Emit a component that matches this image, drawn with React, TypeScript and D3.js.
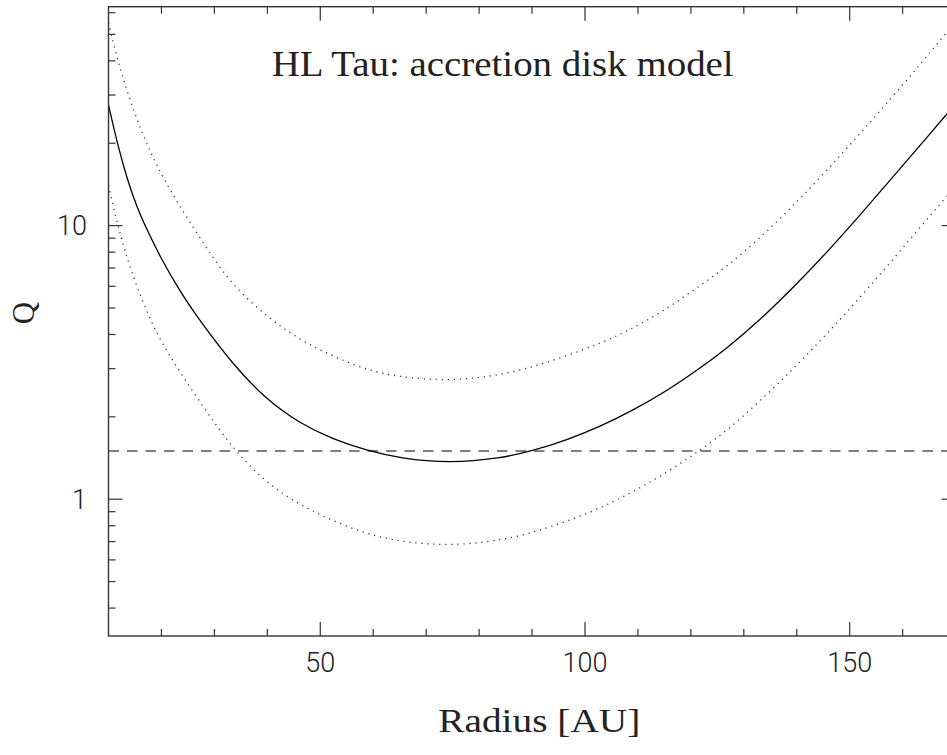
import React from "react";
import * as d3 from "d3";

// Radius [AU] / Toomre Q values
const solidR = [10, 11.66, 13.55, 15.44, 17.33, 19.86, 23.51, 27.28, 33.57, 39.88, 46.17, 52.46, 58.77, 65.06, 74.5, 83.95, 90.24, 96.55, 102.84, 109.14, 115.45, 121.1, 126.78, 133.07, 139.36, 145.67, 151.96, 158.25, 164.56, 168.34, 170];
const solidQ = [27.6, 19.95, 14.71, 11.57, 9.6, 7.61, 5.74, 4.48, 3.094, 2.305, 1.891, 1.653, 1.507, 1.409, 1.353, 1.409, 1.504, 1.646, 1.841, 2.118, 2.486, 2.95, 3.555, 4.519, 5.94, 7.975, 10.93, 15.12, 20.99, 25.58, 27.8];

const upperR = [10, 11.04, 12.3, 13.55, 15.44, 17.33, 19.22, 21.75, 24.89, 29.3, 33.57, 39.88, 46.17, 52.46, 58.77, 65.06, 74.5, 83.95, 90.24, 96.55, 102.84, 107.88, 114.16, 120.5, 126.78, 133.07, 139.36, 145.67, 151.96, 158.25, 164.56, 168.34, 170];
const upperQ = [55.0, 45.4, 36.9, 30.8, 24.2, 19.7, 16.44, 13.35, 10.64, 7.84, 6.01, 4.65, 3.82, 3.32, 2.97, 2.79, 2.7, 2.84, 3.05, 3.34, 3.71, 4.1, 4.78, 5.8, 7.07, 9.01, 11.8, 15.9, 21.7, 29.8, 41.5, 51.0, 55.7];

const lowerR = [10, 11.04, 12.17, 13.25, 14.68, 17.84, 20.99, 27.28, 33.57, 39.88, 46.17, 52.46, 58.77, 65.06, 74.5, 83.95, 90.24, 96.55, 102.84, 109.14, 115.45, 121.75, 127.4, 133.07, 139.36, 145.67, 151.96, 158.25, 164.56, 168.34, 170];
const lowerQ = [14.02, 11.4, 9.37, 7.92, 6.46, 4.52, 3.45, 2.257, 1.519, 1.143, 0.952, 0.832, 0.746, 0.699, 0.674, 0.706, 0.756, 0.829, 0.926, 1.065, 1.252, 1.507, 1.82, 2.286, 2.99, 4.02, 5.46, 7.55, 10.53, 12.78, 13.9];

const thresholdQ = 1.5;

const xMajorTicks = [50, 100, 150];
const xMinorTicks = [20, 30, 40, 60, 70, 80, 90, 110, 120, 130, 140, 160];
const yMajorTicks = [1, 10];
const yMinorTicks = [0.4, 0.5, 0.6, 0.7, 0.8, 0.9, 2, 3, 4, 5, 6, 7, 8, 9, 20, 30, 40, 50, 60];
const xTickLabels = ["50", "100", "150"];
const yTickLabels = ["1", "10"];

const titleText = "HL Tau: accretion disk model";
const xLabel = "Radius [AU]";
const yLabel = "Q";

const W = 947;
const H = 755;
const L = 108.5;
const R = 955.6;
const T = 6.7;
const B = 636;

export default function App() {
  const x = d3.scaleLinear().domain([10, 170]).range([L, R]);
  const y = d3.scaleLog().domain([Math.pow(10, -0.5), Math.pow(10, 1.8)]).range([B, T]);

  const line = d3
    .line<[number, number]>()
    .x((d) => x(d[0]))
    .y((d) => y(d[1]))
    .curve(d3.curveBasis);

  const zip = (a: number[], b: number[]) => a.map((v, i) => [v, b[i]] as [number, number]);

  const axisColor = "#333";
  const sans = "Roboto, 'Liberation Sans', sans-serif";
  const serif = "'Liberation Serif', 'DejaVu Serif', serif";
  const MAJ = 14;
  const MIN = 7;

  return (
    <svg
      width={W}
      height={H}
      style={{ position: "absolute", left: 0, top: 0, background: "#fff", display: "block" }}
    >
      <defs>
        <clipPath id="plot">
          <rect x={L} y={T} width={R - L} height={B - T} />
        </clipPath>
      </defs>
      <rect x={0} y={0} width={W} height={H} fill="#fff" />

      <g clipPath="url(#plot)">
        <line
          x1={L}
          x2={R}
          y1={y(thresholdQ)}
          y2={y(thresholdQ)}
          stroke="#000"
          strokeWidth={1.2}
          strokeDasharray="10.5 8"
        />
        <path d={line(zip(upperR, upperQ)) || ""} fill="none" stroke="#333" strokeWidth={1.3} strokeDasharray="1.2 4.8" />
        <path d={line(zip(lowerR, lowerQ)) || ""} fill="none" stroke="#333" strokeWidth={1.3} strokeDasharray="1.2 4.8" />
        <path d={line(zip(solidR, solidQ)) || ""} fill="none" stroke="#000" strokeWidth={1.3} />
      </g>

      {/* frame */}
      <rect x={L} y={T} width={R - L} height={B - T} fill="none" stroke={axisColor} strokeWidth={1.4} />

      {/* x ticks bottom & top */}
      {xMajorTicks.map((t) => (
        <g key={"xM" + t}>
          <line x1={x(t)} x2={x(t)} y1={B} y2={B - MAJ} stroke={axisColor} strokeWidth={1.2} />
          <line x1={x(t)} x2={x(t)} y1={T} y2={T + MAJ} stroke={axisColor} strokeWidth={1.2} />
        </g>
      ))}
      {xMinorTicks.map((t) => (
        <g key={"xm" + t}>
          <line x1={x(t)} x2={x(t)} y1={B} y2={B - MIN} stroke={axisColor} strokeWidth={1.2} />
          <line x1={x(t)} x2={x(t)} y1={T} y2={T + MIN} stroke={axisColor} strokeWidth={1.2} />
        </g>
      ))}
      {/* y ticks left & right */}
      {yMajorTicks.map((t) => (
        <g key={"yM" + t}>
          <line x1={L} x2={L + MAJ} y1={y(t)} y2={y(t)} stroke={axisColor} strokeWidth={1.2} />
          <line x1={R} x2={R - MAJ} y1={y(t)} y2={y(t)} stroke={axisColor} strokeWidth={1.2} />
        </g>
      ))}
      {yMinorTicks.map((t) => (
        <g key={"ym" + t}>
          <line x1={L} x2={L + MIN} y1={y(t)} y2={y(t)} stroke={axisColor} strokeWidth={1.2} />
          <line x1={R} x2={R - MIN} y1={y(t)} y2={y(t)} stroke={axisColor} strokeWidth={1.2} />
        </g>
      ))}

      {/* tick labels */}
      {xMajorTicks.map((t, i) => (
        <text
          key={"xl" + t}
          x={x(t)}
          y={672}
          textAnchor="middle"
          fontFamily={sans}
          fontWeight={300}
          fontSize={27}
          fill="#222"
        >
          {xTickLabels[i]}
        </text>
      ))}
      {yMajorTicks.map((t, i) => (
        <text
          key={"yl" + t}
          x={87}
          y={y(t) + 9.6}
          textAnchor="end"
          fontFamily={sans}
          fontWeight={300}
          fontSize={27}
          fill="#222"
        >
          {yTickLabels[i]}
        </text>
      ))}

      {/* title */}
      <text
        x={271.7}
        y={75.7}
        fontFamily={serif}
        fontSize={35}
        fill="#222"
        textLength={462}
        lengthAdjust="spacingAndGlyphs"
      >
        {titleText}
      </text>

      {/* x label */}
      <text
        x={438.3}
        y={731.7}
        fontFamily={serif}
        fontSize={33}
        fill="#222"
        textLength={202}
        lengthAdjust="spacingAndGlyphs"
      >
        {xLabel}
      </text>

      {/* y label */}
      <text
        transform="translate(34,313) rotate(-90)"
        textAnchor="middle"
        fontFamily={serif}
        fontSize={31}
        fill="#222"
      >
        {yLabel}
      </text>
    </svg>
  );
}
